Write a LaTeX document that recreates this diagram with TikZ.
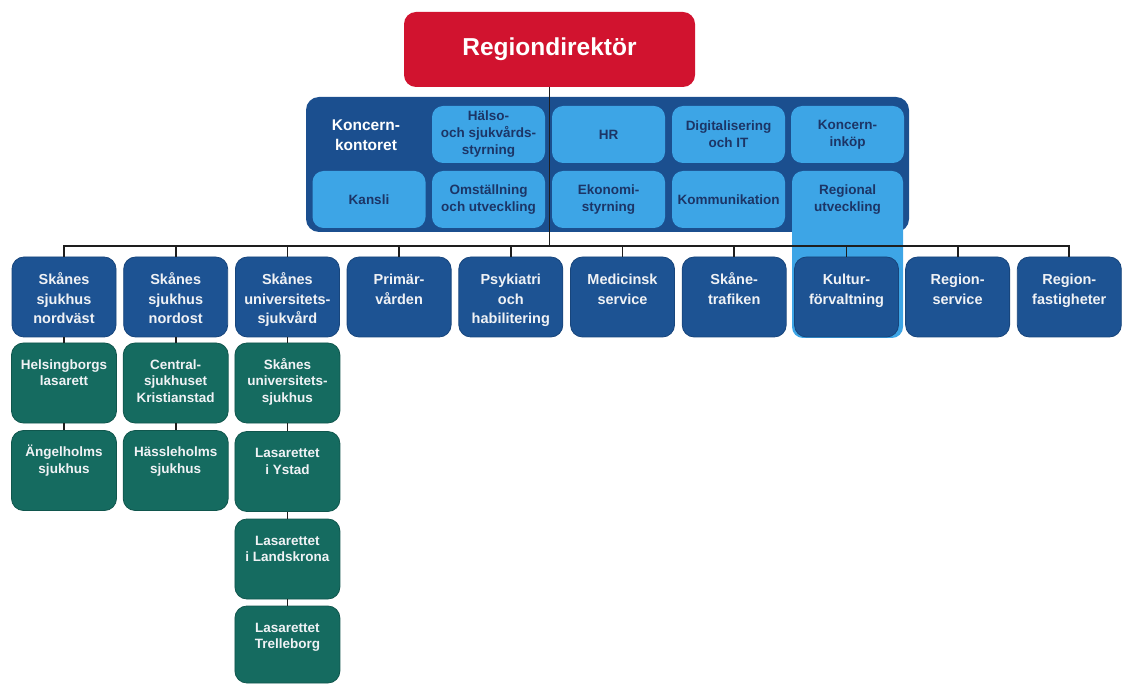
\documentclass[tikz,border=0pt]{standalone}
\usepackage{fontspec}
\setmainfont{Liberation Sans}
\definecolor{rsred}{HTML}{D1132F}
\definecolor{kkblue}{HTML}{1B4F8F}
\definecolor{lblue}{HTML}{3DA5E6}
\definecolor{navytxt}{HTML}{1C3566}
\definecolor{bblue}{HTML}{1D5393}
\definecolor{bborder}{HTML}{17457C}
\definecolor{ggreen}{HTML}{156B60}
\definecolor{gborder}{HTML}{10564D}
\definecolor{linecol}{HTML}{1E1E1E}
\definecolor{paletxt}{HTML}{F0F2F5}
\newcommand\btop[1]{\parbox[c][80pt][t]{104pt}{\centering\rule{0pt}{28pt}#1\par}}
\newcommand\gtop[2][80pt]{\parbox[c][#1][t]{105pt}{\centering\rule{0pt}{26pt}#2\par}}
\tikzset{
  dirbox/.style={rectangle, rounded corners=12pt, fill=rsred, minimum width=291pt, minimum height=75pt, inner sep=0pt, text=white, font=\bfseries\fontsize{24.5}{28}\selectfont},
  kkbox/.style={rectangle, rounded corners=13pt, fill=kkblue, minimum width=603pt, minimum height=135pt, inner sep=0pt},
  kktitle/.style={text=white, align=center, inner sep=0pt, font=\bfseries\fontsize{15.5}{20}\selectfont},
  lbox/.style={rectangle, rounded corners=11pt, fill=lblue, minimum width=113pt, minimum height=57pt, inner sep=0pt, text=navytxt, align=center, font=\bfseries\fontsize{13.5}{17}\selectfont},
  bbox/.style={rectangle, rounded corners=12pt, fill=bblue, draw=bborder, line width=0.8pt, minimum width=104pt, minimum height=80pt, inner sep=0pt, text=paletxt, font=\bfseries\fontsize{14.5}{19.5}\selectfont},
  gbox/.style={rectangle, rounded corners=12pt, fill=ggreen, draw=gborder, line width=0.8pt, minimum width=105pt, minimum height=80pt, inner sep=0pt, text=paletxt, font=\bfseries\fontsize{13.5}{16.8}\selectfont},
  conn/.style={draw=linecol, line width=1.8pt},
}
\begin{document}
\begin{tikzpicture}[x=1pt,y=-1pt]
\useasboundingbox (0,0) rectangle (1124,684);
% Koncernkontoret
\node[kkbox] (kk) at (607.5,164.5) {};
\node[kktitle] (kkt) at (366,135) {Koncern-\\kontoret};
\node[lbox] (hs) at (488.5,134.5) {Hälso-\\och sjukvårds-\\styrning};
\node[lbox] (hr) at (608.5,134.5) {HR};
\node[lbox] (dig) at (728.5,134.5) {Digitalisering\\och IT};
\node[lbox] (ink) at (847.5,134.5) {Koncern-\\inköp};
\node[lbox] (kan) at (369,199.5) {Kansli};
\node[lbox] (oms) at (488.5,199.5) {Omställning\\och utveckling};
\node[lbox] (eko) at (608.5,199.5) {Ekonomi-\\styrning};
\node[lbox] (kom) at (728.5,199.5) {Kommunikation};
\node[lbox, minimum width=111pt] (reg) at (847.5,254.5) {\parbox[c][167pt][t]{111pt}{\centering\rule{0pt}{24pt}Regional\\utveckling\par}};
% Regiondirektör
\node[dirbox] (dir) at (549.5,49.5) {Regiondirektör};
% Förvaltningar
\node[bbox] (b1) at (64,297) {\btop{Skånes\\sjukhus\\nordväst}};
\node[bbox] (b2) at (175.7,297) {\btop{Skånes\\sjukhus\\nordost}};
\node[bbox] (b3) at (287.4,297) {\btop{Skånes\\universitets-\\sjukvård}};
\node[bbox] (b4) at (399.1,297) {\btop{Primär-\\vården}};
\node[bbox] (b5) at (510.8,297) {\btop{Psykiatri\\och\\habilitering}};
\node[bbox] (b6) at (622.5,297) {\btop{Medicinsk\\service}};
\node[bbox] (b7) at (734.2,297) {\btop{Skåne-\\trafiken}};
\node[bbox] (b8) at (846.5,297) {\btop{Kultur-\\förvaltning}};
\node[bbox] (b9) at (957.6,297) {\btop{Region-\\service}};
\node[bbox] (b10) at (1069.3,297) {\btop{Region-\\fastigheter}};
% Sjukhus
\node[gbox] (g11) at (64,383) {\gtop{Helsingborgs\\lasarett}};
\node[gbox] (g12) at (64,470.5) {\gtop{Ängelholms\\sjukhus}};
\node[gbox] (g21) at (175.7,383) {\gtop{Central-\\sjukhuset\\Kristianstad}};
\node[gbox] (g22) at (175.7,470.5) {\gtop{Hässleholms\\sjukhus}};
\node[gbox] (g31) at (287.4,383) {\gtop{Skånes\\universitets-\\sjukhus}};
\node[gbox] (g32) at (287.4,471.5) {\gtop{Lasarettet\\i Ystad}};
\node[gbox] (g33) at (287.4,559) {\gtop{Lasarettet\\i Landskrona}};
\node[gbox, minimum height=77pt] (g34) at (287.4,644.5) {\gtop[77pt]{Lasarettet\\Trelleborg}};
% connectors
\coordinate (bus) at (549.5,246);
\draw[conn] (dir.south) -- (bus);
\foreach \b in {b1,b2,b3,b4,b5,b6,b7,b8,b9,b10}
  \draw[conn] (bus) -| (\b.north);
\draw[conn] (b1.south) -- (g11.north);
\draw[conn] (g11.south) -- (g12.north);
\draw[conn] (b2.south) -- (g21.north);
\draw[conn] (g21.south) -- (g22.north);
\draw[conn] (b3.south) -- (g31.north);
\draw[conn] (g31.south) -- (g32.north);
\draw[conn] (g32.south) -- (g33.north);
\draw[conn] (g33.south) -- (g34.north);
\end{tikzpicture}
\end{document}
